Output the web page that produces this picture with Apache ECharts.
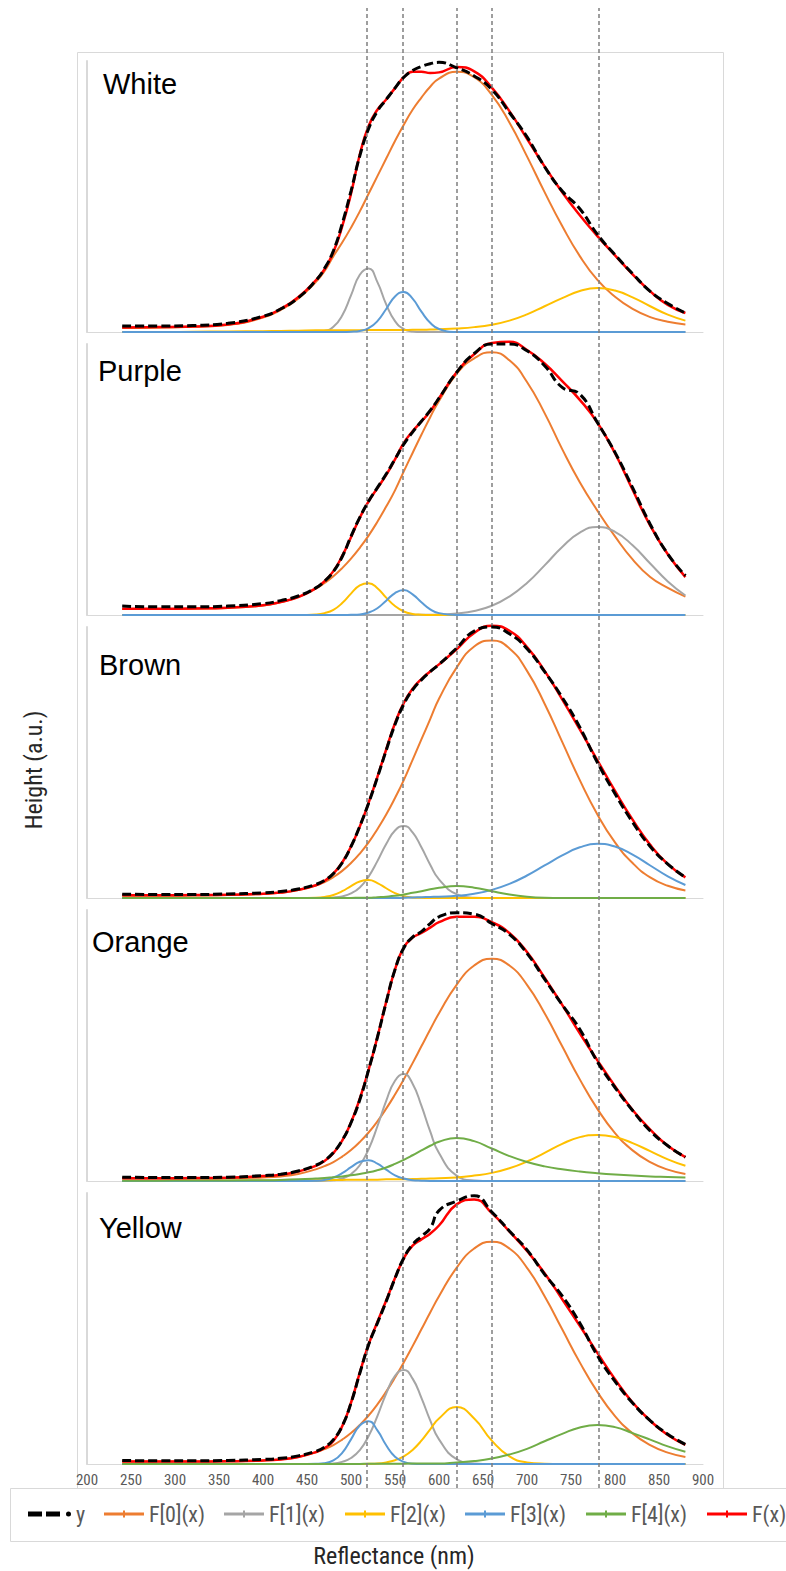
<!DOCTYPE html>
<html>
<head>
<meta charset="utf-8">
<script src="https://cdn.jsdelivr.net/npm/echarts@6/dist/echarts.min.js"></script>
<style>
  html, body { margin: 0; padding: 0; background: #ffffff; }
  #chart { width: 786px; height: 1571px; }
</style>
</head>
<body>
<div id="chart"></div>
<script>
// Wavelength samples (nm) shared by every spectrum
const wavelengths = [240, 280, 320, 360, 400, 420, 440, 460, 470, 480, 490, 500, 510, 520, 530, 540, 550, 560, 570, 580, 590, 600, 620, 640, 660, 680, 700, 720, 740, 760, 780, 800, 820, 840, 860, 880];

// Band centres marked by dashed guide lines
const peakLines = [518, 559, 620, 660, 781];

const panelNames = ['White', 'Purple', 'Brown', 'Orange', 'Yellow'];
const seriesNames = ['y', 'F[0](x)', 'F[1](x)', 'F[2](x)', 'F[3](x)', 'F[4](x)', 'F(x)'];

// ---- White ----
const whiteY  = [0.022,0.022,0.024,0.032,0.058,0.085,0.126,0.19,0.235,0.30,0.40,0.52,0.65,0.75,0.815,0.858,0.90,0.94,0.965,0.98,0.99,0.995,0.975,0.945,0.895,0.81,0.72,0.61,0.52,0.455,0.36,0.285,0.215,0.15,0.105,0.07];
const whiteF0 = [0.015,0.016,0.019,0.026,0.053,0.081,0.123,0.184,0.225,0.28,0.33,0.385,0.445,0.51,0.575,0.64,0.705,0.765,0.82,0.865,0.905,0.935,0.96,0.940,0.875,0.773,0.648,0.516,0.391,0.280,0.192,0.13,0.085,0.055,0.038,0.028];
const whiteF1 = [0,0,0,0,0,0,0,0.001,0.004,0.019,0.061,0.135,0.211,0.234,0.184,0.102,0.040,0.011,0.002,0,0,0,0,0,0,0,0,0,0,0,0,0,0,0,0,0];
const whiteF2 = [0,0,0.001,0.002,0.003,0.004,0.005,0.006,0.006,0.006,0.006,0.006,0.006,0.007,0.007,0.007,0.007,0.007,0.008,0.008,0.009,0.010,0.013,0.018,0.027,0.042,0.065,0.095,0.125,0.151,0.162,0.153,0.128,0.095,0.064,0.042];
const whiteF3 = [0,0,0,0,0,0,0,0,0,0,0,0.001,0.004,0.014,0.040,0.085,0.131,0.148,0.123,0.075,0.034,0.011,0,0,0,0,0,0,0,0,0,0,0,0,0,0];
const whiteFx = [0.017,0.018,0.020,0.028,0.056,0.085,0.128,0.191,0.232,0.295,0.39,0.51,0.655,0.76,0.82,0.858,0.90,0.94,0.96,0.96,0.956,0.958,0.978,0.962,0.902,0.815,0.713,0.611,0.516,0.431,0.354,0.283,0.213,0.150,0.100,0.070];

// ---- Purple ----
const purpleY  = [0.033,0.03,0.03,0.033,0.042,0.053,0.07,0.10,0.125,0.16,0.215,0.29,0.36,0.42,0.47,0.52,0.575,0.63,0.675,0.715,0.755,0.80,0.895,0.965,1.0,1.0,0.975,0.92,0.84,0.815,0.71,0.60,0.47,0.335,0.225,0.145];
const purpleF0 = [0.022,0.022,0.023,0.026,0.035,0.047,0.066,0.097,0.118,0.143,0.173,0.208,0.248,0.293,0.344,0.40,0.46,0.53,0.598,0.665,0.73,0.79,0.89,0.947,0.97,0.94,0.86,0.745,0.612,0.49,0.385,0.29,0.205,0.14,0.10,0.068];
const purpleF1 = [0,0,0,0,0,0,0,0,0,0,0,0,0,0,0,0,0,0,0,0.001,0.001,0.002,0.006,0.015,0.034,0.068,0.118,0.183,0.251,0.304,0.325,0.307,0.257,0.19,0.124,0.072];
const purpleF2 = [0,0,0,0,0,0,0,0.002,0.007,0.019,0.044,0.079,0.109,0.117,0.099,0.064,0.033,0.013,0.004,0.001,0,0,0,0,0,0,0,0,0,0,0,0,0,0,0,0];
const purpleF3 = [0,0,0,0,0,0,0,0,0,0,0,0.001,0.002,0.009,0.025,0.053,0.081,0.092,0.076,0.047,0.021,0.007,0,0,0,0,0,0,0,0,0,0,0,0,0,0];
const purpleFx = [0.023,0.023,0.024,0.027,0.036,0.048,0.066,0.099,0.125,0.162,0.218,0.287,0.359,0.419,0.468,0.517,0.574,0.635,0.678,0.714,0.752,0.80,0.896,0.962,1.004,1.008,0.978,0.928,0.863,0.794,0.71,0.597,0.462,0.33,0.224,0.14];

// ---- Brown ----
const brownY  = [0.014,0.013,0.013,0.015,0.019,0.024,0.033,0.05,0.065,0.09,0.13,0.19,0.265,0.35,0.445,0.545,0.64,0.715,0.768,0.805,0.835,0.862,0.922,0.985,1.0,0.975,0.92,0.835,0.74,0.63,0.50,0.385,0.28,0.19,0.125,0.076];
const brownF0 = [0.008,0.008,0.009,0.011,0.015,0.019,0.029,0.046,0.059,0.077,0.10,0.129,0.164,0.205,0.254,0.308,0.369,0.435,0.51,0.585,0.66,0.735,0.85,0.928,0.95,0.921,0.838,0.717,0.576,0.435,0.308,0.205,0.129,0.076,0.045,0.028];
const brownF1 = [0,0,0,0,0,0,0,0,0.001,0.002,0.006,0.017,0.039,0.079,0.136,0.199,0.249,0.266,0.242,0.187,0.123,0.069,0.014,0.001,0,0,0,0,0,0,0,0,0,0,0,0];
const brownF2 = [0,0,0,0,0,0,0,0.001,0.004,0.011,0.025,0.044,0.061,0.066,0.055,0.036,0.018,0.007,0.002,0.001,0,0,0,0,0,0,0,0,0,0,0,0,0,0,0,0];
const brownF3 = [0,0,0,0,0,0,0,0,0,0,0,0,0,0,0,0,0,0.001,0.002,0.003,0.004,0.005,0.008,0.016,0.03,0.052,0.083,0.12,0.157,0.187,0.2,0.19,0.16,0.12,0.08,0.048];
const brownF4 = [0,0,0,0,0,0,0,0,0,0,0,0,0.001,0.001,0.003,0.005,0.008,0.013,0.019,0.025,0.032,0.038,0.044,0.038,0.025,0.013,0.005,0.001,0,0,0,0,0,0,0,0];
const brownFx = [0.01,0.01,0.011,0.012,0.016,0.02,0.03,0.047,0.063,0.09,0.131,0.19,0.264,0.351,0.447,0.548,0.645,0.72,0.772,0.808,0.836,0.862,0.918,0.978,1.005,0.986,0.926,0.838,0.733,0.622,0.508,0.395,0.289,0.196,0.125,0.076];

// ---- Orange ----
const orangeY  = [0.014,0.013,0.013,0.014,0.02,0.025,0.037,0.058,0.076,0.105,0.15,0.215,0.30,0.41,0.53,0.66,0.78,0.86,0.90,0.92,0.95,0.975,0.99,0.985,0.95,0.91,0.84,0.745,0.65,0.56,0.44,0.345,0.26,0.185,0.13,0.088];
const orangeF0 = [0.009,0.009,0.009,0.010,0.013,0.017,0.026,0.043,0.055,0.07,0.09,0.114,0.144,0.179,0.22,0.267,0.319,0.375,0.435,0.497,0.559,0.619,0.724,0.795,0.82,0.795,0.724,0.619,0.497,0.375,0.266,0.177,0.113,0.07,0.042,0.026];
const orangeF1 = [0,0,0,0,0,0,0,0,0.001,0.003,0.009,0.025,0.058,0.117,0.202,0.296,0.37,0.395,0.359,0.278,0.183,0.103,0.02,0.002,0,0,0,0,0,0,0,0,0,0,0,0];
const orangeF2 = [0,0,0.001,0.001,0.002,0.002,0.003,0.003,0.003,0.004,0.004,0.005,0.005,0.005,0.005,0.006,0.006,0.006,0.007,0.008,0.009,0.01,0.013,0.02,0.03,0.047,0.072,0.104,0.137,0.162,0.17,0.162,0.14,0.11,0.08,0.056];
const orangeF3 = [0,0,0,0,0,0,0,0.001,0.004,0.013,0.029,0.051,0.071,0.077,0.064,0.042,0.021,0.009,0.003,0.001,0,0,0,0,0,0,0,0,0,0,0,0,0,0,0,0];
const orangeF4 = [0.001,0.001,0.002,0.002,0.003,0.004,0.006,0.009,0.011,0.014,0.017,0.021,0.026,0.032,0.04,0.05,0.063,0.078,0.095,0.113,0.13,0.145,0.159,0.147,0.12,0.092,0.07,0.054,0.043,0.035,0.029,0.024,0.02,0.017,0.015,0.013];
const orangeFx = [0.010,0.010,0.011,0.012,0.018,0.023,0.035,0.056,0.074,0.103,0.149,0.216,0.304,0.41,0.531,0.661,0.78,0.862,0.898,0.915,0.935,0.955,0.975,0.975,0.955,0.915,0.845,0.75,0.65,0.545,0.445,0.35,0.262,0.19,0.13,0.088];

// ---- Yellow ----
const yellowY  = [0.013,0.012,0.012,0.013,0.017,0.021,0.03,0.047,0.062,0.09,0.14,0.225,0.335,0.44,0.52,0.60,0.685,0.76,0.81,0.84,0.87,0.935,0.97,0.99,0.93,0.86,0.79,0.70,0.62,0.52,0.40,0.305,0.225,0.16,0.11,0.072];
const yellowF0 = [0.009,0.009,0.009,0.010,0.013,0.017,0.026,0.043,0.055,0.07,0.09,0.114,0.144,0.179,0.22,0.267,0.319,0.375,0.435,0.497,0.559,0.619,0.724,0.795,0.82,0.795,0.724,0.619,0.497,0.375,0.266,0.177,0.113,0.07,0.042,0.026];
const yellowF1 = [0,0,0,0,0,0,0,0,0.001,0.002,0.008,0.022,0.051,0.103,0.177,0.26,0.325,0.347,0.315,0.244,0.161,0.091,0.018,0.002,0,0,0,0,0,0,0,0,0,0,0,0];
const yellowF2 = [0,0,0,0,0,0,0,0,0,0,0,0,0,0.001,0.002,0.006,0.014,0.028,0.052,0.086,0.128,0.168,0.21,0.168,0.086,0.028,0.006,0.001,0,0,0,0,0,0,0,0];
const yellowF3 = [0,0,0,0,0,0,0,0.001,0.003,0.013,0.041,0.091,0.142,0.158,0.124,0.069,0.027,0.008,0.001,0,0,0,0,0,0,0,0,0,0,0,0,0,0,0,0,0];
const yellowF4 = [0,0,0,0,0,0,0,0,0,0,0,0,0,0.001,0.001,0.001,0.001,0.001,0.002,0.002,0.002,0.002,0.006,0.011,0.02,0.035,0.056,0.084,0.111,0.135,0.144,0.136,0.114,0.09,0.065,0.045];
const yellowFx = [0.009,0.009,0.009,0.010,0.013,0.017,0.026,0.044,0.059,0.085,0.139,0.226,0.337,0.441,0.524,0.603,0.686,0.759,0.806,0.829,0.85,0.88,0.958,0.976,0.926,0.858,0.786,0.704,0.608,0.51,0.41,0.313,0.227,0.16,0.107,0.071];

// Panel table: measured spectrum, the five fitted bands (null = band absent) and the total fit
const panels = [
  { title: 'White',  y: whiteY,  bands: [whiteF0, whiteF1, whiteF2, whiteF3, null], fit: whiteFx },
  { title: 'Purple', y: purpleY, bands: [purpleF0, purpleF1, purpleF2, purpleF3, null], fit: purpleFx },
  { title: 'Brown',  y: brownY,  bands: [brownF0, brownF1, brownF2, brownF3, brownF4], fit: brownFx },
  { title: 'Orange', y: orangeY, bands: [orangeF0, orangeF1, orangeF2, orangeF3, orangeF4], fit: orangeFx },
  { title: 'Yellow', y: yellowY, bands: [yellowF0, yellowF1, yellowF2, yellowF3, yellowF4], fit: yellowFx }
];

const bandColors = ['#ED7D31', '#A5A5A5', '#FFC000', '#5B9BD5', '#70AD47'];
const fitColor = '#FF0000';
const narrowFont = '"Liberation Sans Narrow", "Roboto Condensed", "Liberation Sans", sans-serif';
const titleFont = '"Liberation Sans", Arial, sans-serif';

const plotLeft = 87, plotWidth = 616, panelTop0 = 61, panelStep = 283, panelHeight = 271;

const pairs = arr => wavelengths.map((w, i) => [w, arr[i]]);

const grid = [], xAxis = [], yAxis = [], series = [], graphic = [];

panels.forEach((p, i) => {
  const top = panelTop0 + panelStep * i;
  grid.push({ left: plotLeft, width: plotWidth, top: top, height: panelHeight });
  xAxis.push({
    gridIndex: i, type: 'value', min: 200, max: 900, interval: 50,
    axisLine: { show: true, lineStyle: { color: '#d9d9d9', width: 1 } },
    axisTick: { show: false }, splitLine: { show: false },
    axisLabel: { show: i === panels.length - 1, color: '#595959', fontSize: 15, fontFamily: narrowFont, margin: 8 }
  });
  yAxis.push({
    gridIndex: i, type: 'value', min: 0, max: 1,
    axisLine: { show: true, lineStyle: { color: '#d9d9d9', width: 2 } },
    axisTick: { show: false }, axisLabel: { show: false }, splitLine: { show: false }
  });

  p.bands.forEach((band, k) => {
    if (!band) return;
    series.push({
      type: 'line', name: seriesNames[k + 1], xAxisIndex: i, yAxisIndex: i,
      data: pairs(band), smooth: 0.5, symbol: 'none', clip: false,
      itemStyle: { color: bandColors[k] },
      lineStyle: { color: bandColors[k], width: 2 }, z: 3
    });
  });
  series.push({
    type: 'line', name: 'F(x)', xAxisIndex: i, yAxisIndex: i,
    data: pairs(p.fit), smooth: 0.5, symbol: 'none', clip: false,
    itemStyle: { color: fitColor },
    lineStyle: { color: fitColor, width: 2.5 }, z: 4
  });
  series.push({
    type: 'line', name: 'y', xAxisIndex: i, yAxisIndex: i,
    data: pairs(p.y), smooth: 0.5, symbol: 'none', clip: false,
    itemStyle: { color: '#000000' },
    lineStyle: { color: '#000000', width: 3, type: [9, 4] }, z: 5
  });
});

// Full-height layer carrying the dashed band-centre guides
const guideIdx = panels.length;
grid.push({ left: plotLeft, width: plotWidth, top: 8, height: 1480 });
xAxis.push({ gridIndex: guideIdx, type: 'value', min: 200, max: 900, show: false });
yAxis.push({ gridIndex: guideIdx, type: 'value', min: 0, max: 1, show: false });
series.push({
  type: 'line', name: 'guides', xAxisIndex: guideIdx, yAxisIndex: guideIdx, data: [], z: 6,
  markLine: {
    silent: true, symbol: 'none', animation: false,
    label: { show: false },
    lineStyle: { color: '#7f7f7f', width: 1.5, type: [4, 3] },
    data: peakLines.map(v => ({ xAxis: v }))
  }
});

// Panel labels
const titleCentersY = [84, 371, 665, 942, 1228];
const titleLefts = [103, 98, 99, 92, 99];
panels.forEach((p, i) => {
  graphic.push({
    type: 'text', x: titleLefts[i], y: titleCentersY[i], silent: true,
    style: { text: p.title, fill: '#000000', font: '29px ' + titleFont, verticalAlign: 'middle', align: 'left' }
  });
});

// Outer chart frame and legend box
graphic.push({ type: 'rect', silent: true, z: -10, shape: { x: 77.5, y: 52.5, width: 646, height: 1436 }, style: { fill: 'none', stroke: '#d9d9d9', lineWidth: 1 } });
graphic.push({ type: 'rect', silent: true, z: -10, shape: { x: 10.5, y: 1488.5, width: 800, height: 53 }, style: { fill: 'none', stroke: '#d9d9d9', lineWidth: 1 } });

// Axis titles
graphic.push({ type: 'text', x: 34, y: 770, rotation: Math.PI / 2, silent: true,
  style: { text: 'Height (a.u.)', fill: '#262626', font: '24px ' + narrowFont, align: 'center', verticalAlign: 'middle' } });
graphic.push({ type: 'text', x: 394, y: 1556, silent: true,
  style: { text: 'Reflectance (nm)', fill: '#262626', font: '24px ' + narrowFont, align: 'center', verticalAlign: 'middle' } });

// Legend: one entry per component so each can sit at its own position
const lineIcon = 'path://M0,2h40v3h-40z M19,0h2v7h-2z';
const dataIcon = 'path://M0,0h14v5h-14z M18,0h14v5h-14z M38,2.5a2.5,2.5 0 1 0 5,0a2.5,2.5 0 1 0 -5,0z';
const legendLefts = [28, 104, 224, 345, 465, 586, 707];
const legend = seriesNames.map((name, k) => ({
  left: legendLefts[k], top: 1503, padding: 0, selectedMode: false,
  itemWidth: name === 'y' ? 43 : 40, itemHeight: name === 'y' ? 5 : 7,
  itemStyle: { borderWidth: 0 },
  textStyle: { color: '#595959', fontSize: 22, fontFamily: narrowFont },
  data: [{ name: name, icon: name === 'y' ? dataIcon : lineIcon }]
}));

const chart = echarts.init(document.getElementById('chart'), null, { renderer: 'svg' });
chart.setOption({
  animation: false,
  backgroundColor: '#ffffff',
  grid, xAxis, yAxis, series, legend, graphic
});
</script>
</body>
</html>
